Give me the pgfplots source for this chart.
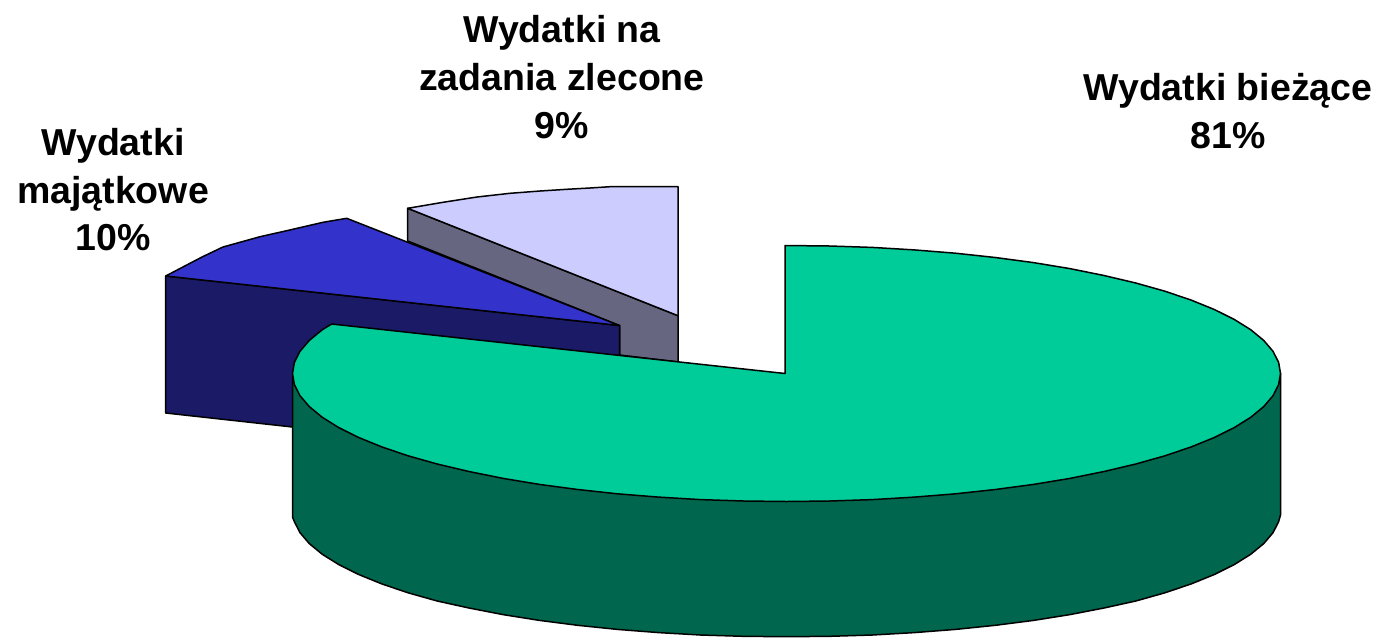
\documentclass[border=0pt]{standalone}
\usepackage{fontspec}
\setmainfont{Liberation Sans}
\usepackage{pgfplots}
\pgfplotsset{compat=1.18}
\definecolor{topgreen}{RGB}{0,204,153}
\definecolor{sidegreen}{RGB}{0,102,77}
\definecolor{topblue}{RGB}{51,51,204}
\definecolor{sideblue}{RGB}{26,26,102}
\definecolor{toplight}{RGB}{204,204,255}
\definecolor{sidelight}{RGB}{102,102,128}
\newcommand{\lab}[3]{\node[anchor=base,inner sep=0pt,font=\fontsize{37.5}{37.5}\selectfont\bfseries] at (axis cs:#1,#2) {#3};}
\begin{document}
\begin{tikzpicture}
\path[use as bounding box] (0,0) rectangle (1380pt,638pt);
\begin{axis}[
  at={(0,0)},anchor=south west,
  width=1380pt,height=638pt,scale only axis,
  xmin=0,xmax=1380,ymin=0,ymax=638,y dir=reverse,
  hide axis,
  every axis plot/.append style={no markers,draw=black,line width=1.5pt,line join=round},
]
% side of the "zadania zlecone" slice
\addplot[fill=sidelight] coordinates {(407.7,208.3)(678,315.7)(678,362)(619.5,355)(619.5,325.5)(407.7,241)} -- cycle;
% top of the "zadania zlecone" slice
\addplot[fill=toplight] coordinates {(407.7,208.3)(443,202.3)(477,197)(510,193.3)(540,191)(566.7,189.3)(590,188)(610,186.7)(678,186.7)(678,315.7)} -- cycle;
% side of the "majatkowe" slice
\addplot[fill=sideblue] coordinates {(165.7,276)(619.5,325.5)(619.5,355)(500,400)(292.5,427)(165.7,413)} -- cycle;
% top of the "majatkowe" slice
\addplot[fill=topblue] coordinates {(165.7,276)(203,256.5)(223,247)(260,236.7)(286.7,230.7)(323,222.3)(346.7,218.3)(619.5,325.5)} -- cycle;
% side of the "biezace" slice
\addplot[fill=sidegreen] coordinates {(1280.5,373.5)(1280.5,515)
(1278.6,521.7)(1273,532.7)(1263.7,543.6)(1250.7,554.3)(1234.2,564.6)(1214.3,574.5)(1191.2,583.9)(1164.9,592.8)(1135.8,601)(1104,608)(1069.9,614.6)(1033.5,620.4)(995.3,625.3)(955.5,629.4)(914.3,632.6)(872.3,635)(829.5,636.3)(786.5,636.7)
(743.5,636.3)(700.7,635)(658.7,632.6)(617.5,629.4)(577.7,625.3)(539.5,620.4)(503.1,614.6)(469,608)(437.2,601)(408.1,592.8)(381.8,583.9)(358.7,574.5)(338.8,564.6)(322.3,554.3)(309.3,543.6)(300,532.7)(294.4,521.7)(292.5,517)(292.5,373.5)} -- cycle;
% top of the "biezace" slice
\addplot[fill=topgreen] coordinates {(785,373.5)(785,245.5)
(829.5,246)(872.3,247.4)(914.3,249.9)(955.5,253.2)(995.3,257.5)(1033.5,262.6)(1069.9,268.6)(1104,275.5)(1135.8,283)(1164.9,291.2)(1191.2,300.1)(1214.3,309.5)(1234.2,319.4)(1250.7,329.7)(1263.7,340.4)(1273,351.3)(1278.6,362.3)(1280.5,373.5)
(1278.6,384.7)(1273,395.7)(1263.7,406.6)(1250.7,417.3)(1234.2,427.6)(1214.3,437.5)(1191.2,446.9)(1164.9,455.8)(1135.8,464)(1104,471.5)(1069.9,478.4)(1033.5,484.4)(995.3,489.5)(955.5,493.8)(914.3,497.1)(872.3,499.6)(829.5,501)(786.5,501.5)
(743.5,501)(700.7,499.6)(658.7,497.1)(617.5,493.8)(577.7,489.5)(539.5,484.4)(503.1,478.4)(469,471.5)(437.2,464)(408.1,455.8)(381.8,446.9)(358.7,437.5)(338.8,427.6)(322.3,417.3)(309.3,406.6)(300,395.7)(294.4,384.7)(292.5,373.5)
(294.4,362.3)(300,351.3)(309.3,340.4)(322.3,329.7)(331.7,324)} -- cycle;
\lab{562}{42}{Wydatki na}
\lab{562}{90}{zadania zlecone}
\lab{562}{138}{9\%}
\lab{113}{155}{Wydatki}
\lab{113}{203}{majątkowe}
\lab{113}{250}{10\%}
\lab{1228}{100}{Wydatki bieżące}
\lab{1228}{148}{81\%}
\end{axis}
\end{tikzpicture}
\end{document}
